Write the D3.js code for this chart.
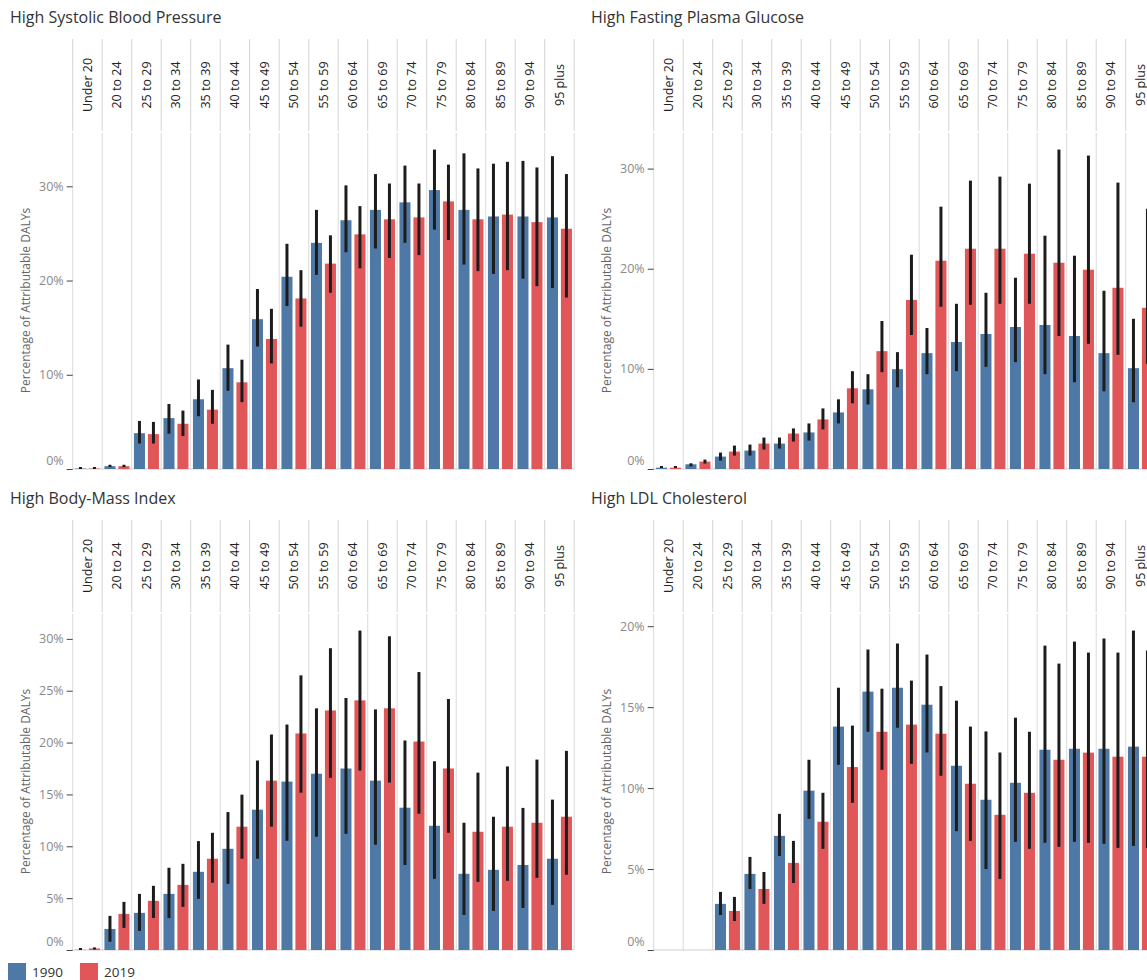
<!DOCTYPE html>
<html>
<head>
<meta charset="utf-8">
<script src="https://cdn.jsdelivr.net/npm/d3@7"></script>
<style>
  html, body { margin: 0; padding: 0; background: #fff; overflow: hidden; }
  svg { display: block; font-family: "Open Sans", sans-serif; }
</style>
</head>
<body>
<svg id="chart" width="1147" height="980"></svg>
<script>
const ageGroups = ['Under 20', '20 to 24', '25 to 29', '30 to 34', '35 to 39', '40 to 44', '45 to 49',
  '50 to 54', '55 to 59', '60 to 64', '65 to 69', '70 to 74', '75 to 79', '80 to 84', '85 to 89',
  '90 to 94', '95 plus'];
const years = ['1990', '2019'];
const yearColors = ['#4e79a7', '#e15759'];

// each entry: [value, lower, upper] in percent
const sbp1990 = [[0.05, 0, 0.1], [0.3, 0.2, 0.45], [3.8, 2.7, 5.1], [5.4, 3.75, 6.9], [7.4, 5.6, 9.5],
  [10.7, 8.3, 13.2], [15.9, 13.0, 19.1], [20.4, 17.3, 23.9], [24.0, 20.6, 27.5], [26.4, 23.0, 30.1],
  [27.5, 23.4, 31.3], [28.3, 24.0, 32.2], [29.6, 25.4, 33.9], [27.5, 21.7, 33.5], [26.8, 20.7, 32.4],
  [26.8, 20.2, 32.7], [26.7, 19.2, 33.2]];
const sbp2019 = [[0.05, 0, 0.1], [0.3, 0.2, 0.45], [3.7, 2.7, 5.0], [4.8, 3.5, 6.2], [6.3, 4.8, 8.4],
  [9.2, 7.1, 11.6], [13.8, 11.2, 17.0], [18.1, 15.1, 21.1], [21.8, 18.7, 24.8], [24.9, 21.3, 27.9],
  [26.5, 22.4, 30.3], [26.7, 22.7, 30.3], [28.4, 24.3, 32.3], [26.5, 21.0, 31.9], [27.0, 21.1, 32.6],
  [26.2, 19.4, 32.0], [25.5, 18.2, 31.3]];

const fpg1990 = [[0.13, 0.1, 0.2], [0.47, 0.27, 0.57], [1.24, 0.84, 1.64], [1.84, 1.34, 2.44], [2.54, 2.04, 3.14],
  [3.65, 2.84, 4.55], [5.65, 4.55, 6.96], [7.96, 6.45, 9.47], [9.97, 8.16, 11.67], [11.57, 9.47, 14.08],
  [12.68, 9.77, 16.5], [13.48, 10.2, 17.6], [14.18, 10.67, 19.1], [14.38, 9.47, 23.3], [13.28, 8.66, 21.3],
  [11.57, 7.76, 17.8], [10.07, 6.66, 15.0]];
const fpg2019 = [[0.13, 0.1, 0.2], [0.74, 0.54, 0.94], [1.74, 1.34, 2.34], [2.54, 1.94, 3.14], [3.54, 2.74, 4.05],
  [4.95, 3.95, 6.05], [8.06, 6.56, 9.77], [11.77, 9.67, 14.78], [16.89, 13.38, 21.4], [20.8, 16.2, 26.2],
  [22.0, 16.4, 28.8], [22.0, 16.5, 29.2], [21.5, 16.5, 28.5], [20.6, 13.28, 31.9], [19.9, 12.5, 31.3],
  [18.1, 11.4, 28.6], [16.1, 10.5, 26.0]];

const bmi1990 = [[0.02, 0, 0.05], [2.03, 0.8, 3.29], [3.58, 1.84, 5.41], [5.41, 3.09, 7.93], [7.54, 4.93, 10.5],
  [9.76, 6.38, 13.3], [13.53, 8.8, 18.27], [16.24, 10.53, 21.74], [17.0, 10.92, 23.3], [17.5, 11.2, 24.3],
  [16.33, 10.15, 23.2], [13.72, 8.2, 20.2], [11.98, 6.86, 18.2], [7.35, 3.38, 12.27], [7.73, 3.77, 12.85],
  [8.2, 4.06, 13.7], [8.8, 4.35, 14.5]];
const bmi2019 = [[0.15, 0.05, 0.25], [3.48, 2.13, 4.64], [4.74, 3.09, 6.19], [6.28, 4.16, 8.31], [8.8, 6.48, 11.3],
  [11.89, 8.8, 14.98], [16.33, 11.89, 20.78], [20.88, 15.17, 26.48], [23.1, 16.6, 29.1], [24.07, 17.3, 30.8],
  [23.3, 16.14, 30.25], [20.1, 13.14, 26.8], [17.5, 11.3, 24.2], [11.4, 6.57, 17.1], [11.89, 6.67, 17.7],
  [12.27, 6.96, 18.36], [12.85, 7.25, 19.2]];

const ldl1990 = [[0, null, null], [0, null, null], [2.85, 2.16, 3.59], [4.7, 3.77, 5.75], [7.05, 5.81, 8.41],
  [9.84, 8.1, 11.75], [13.8, 11.44, 16.2], [15.96, 13.48, 18.56], [16.2, 13.73, 18.93], [15.15, 12.2, 18.25],
  [11.38, 7.34, 15.4], [9.28, 5.0, 13.5], [10.33, 6.68, 14.35], [12.37, 6.62, 18.8], [12.43, 6.68, 19.05],
  [12.43, 6.56, 19.24], [12.56, 6.43, 19.73]];
const ldl2019 = [[0, null, null], [0, null, null], [2.41, 1.79, 3.28], [3.77, 2.85, 4.82], [5.38, 4.14, 6.74],
  [7.92, 6.25, 9.71], [11.3, 9.09, 13.86], [13.48, 11.13, 16.14], [13.92, 11.5, 16.64], [13.36, 10.76, 16.3],
  [10.27, 6.74, 13.8], [8.35, 4.39, 12.2], [9.71, 6.25, 13.48], [11.75, 6.37, 17.69], [12.19, 6.62, 18.37],
  [11.94, 6.31, 18.37], [11.94, 6.3, 18.5]];

const ticks10 = [0, 10, 20, 30];
const ticks5to30 = [0, 5, 10, 15, 20, 25, 30];
const ticks5to20 = [0, 5, 10, 15, 20];

const panels = [
  {title: 'High Systolic Blood Pressure', series: [sbp1990, sbp2019], ticks: ticks10},
  {title: 'High Fasting Plasma Glucose', series: [fpg1990, fpg2019], ticks: ticks10},
  {title: 'High Body-Mass Index', series: [bmi1990, bmi2019], ticks: ticks5to30},
  {title: 'High LDL Cholesterol', series: [ldl1990, ldl2019], ticks: ticks5to20}
];

// layout (inside one panel)
const panelW = 581, panelH = 481;
const colLeft = 72.7, colRight = 574.2;
const headTop = 39, headBottom = 131;
const plotTop = 132, plotBottom = 469;

const svg = d3.select('#chart');

const x0 = d3.scaleBand().domain(ageGroups).range([colLeft, colRight]);
const x1 = d3.scaleBand().domain(years).range([0, x0.bandwidth()])
  .paddingInner(0.21).paddingOuter(0.16);

panels.forEach((p, pi) => {
  const g = svg.append('g')
    .attr('transform', `translate(${(pi % 2) * panelW}, ${Math.floor(pi / 2) * panelH})`);

  const maxUp = d3.max(p.series.flat(), d => d[2] == null ? d[0] : d[2]);
  const y = d3.scaleLinear().domain([0, maxUp * 1.055]).range([plotBottom, plotTop]);

  g.append('text')
    .attr('x', 10).attr('y', 17)
    .attr('dominant-baseline', 'central')
    .attr('font-size', 16).attr('fill', '#333')
    .text(p.title);

  // column separators
  const edges = ageGroups.map(c => x0(c)).concat([colRight]);
  g.selectAll('.sepHead').data(edges).enter().append('line')
    .attr('x1', d => d).attr('x2', d => d)
    .attr('y1', headTop).attr('y2', headBottom)
    .attr('stroke', '#d4d4d4').attr('stroke-width', 1);
  g.selectAll('.sepPlot').data(edges).enter().append('line')
    .attr('x1', d => d).attr('x2', d => d)
    .attr('y1', plotTop + 1).attr('y2', plotBottom)
    .attr('stroke', '#dadada').attr('stroke-width', 1);

  // age labels in header
  const midHead = (headTop + headBottom) / 2;
  g.selectAll('.age').data(ageGroups).enter().append('text')
    .attr('transform', d => `translate(${x0(d) + x0.bandwidth() / 2}, ${midHead}) rotate(-90)`)
    .attr('text-anchor', 'middle')
    .attr('dominant-baseline', 'central')
    .attr('font-size', 12.5).attr('fill', '#222')
    .text(d => d);

  // baseline
  g.append('line')
    .attr('x1', colLeft).attr('x2', colRight)
    .attr('y1', y(0)).attr('y2', y(0))
    .attr('stroke', '#cfcfcf');

  // y axis
  const axis = g.append('g')
    .attr('transform', `translate(${colLeft}, 0)`)
    .call(d3.axisLeft(y).tickValues(p.ticks).tickFormat(d => d + '%').tickSize(6).tickPadding(3));
  axis.select('.domain').remove();
  axis.selectAll('.tick line').attr('stroke', '#444');
  axis.selectAll('.tick text')
    .attr('fill', '#8a8a8a').attr('font-size', 12.5)
    .attr('font-family', '"Open Sans", sans-serif')
    .attr('dy', d => d === 0 ? '-0.4em' : '0.32em');

  g.append('text')
    .attr('transform', `translate(25, ${(plotTop + plotBottom) / 2}) rotate(-90)`)
    .attr('text-anchor', 'middle')
    .attr('dominant-baseline', 'central')
    .attr('font-size', 12).attr('fill', '#666')
    .text('Percentage of Attributable DALYs');

  // bars and uncertainty
  p.series.forEach((vals, si) => {
    const yr = years[si];
    g.selectAll('.bar' + si).data(vals).enter().append('rect')
      .attr('x', (d, i) => x0(ageGroups[i]) + x1(yr))
      .attr('y', d => y(d[0]))
      .attr('width', x1.bandwidth())
      .attr('height', d => y(0) - y(d[0]))
      .attr('fill', yearColors[si]);

    g.selectAll('.err' + si).data(vals.filter(d => d[1] != null)).enter().append('line')
      .attr('x1', d => x0(ageGroups[vals.indexOf(d)]) + x1(yr) + x1.bandwidth() / 2)
      .attr('x2', d => x0(ageGroups[vals.indexOf(d)]) + x1(yr) + x1.bandwidth() / 2)
      .attr('y1', d => y(d[1]))
      .attr('y2', d => Math.min(y(d[2]), y(d[1]) - 2))
      .attr('stroke', '#1c1c1c').attr('stroke-width', 3);
  });
});

// legend
const legend = svg.append('g').attr('transform', 'translate(8, 963)');
const items = legend.selectAll('g').data(years).enter().append('g')
  .attr('transform', (d, i) => `translate(${i * 72}, 0)`);
items.append('rect').attr('width', 18).attr('height', 18)
  .attr('fill', (d, i) => yearColors[i]);
items.append('text')
  .attr('x', 24).attr('y', 9)
  .attr('dominant-baseline', 'central')
  .attr('font-size', 13.5).attr('fill', '#333')
  .text(d => d);
</script>
</body>
</html>
